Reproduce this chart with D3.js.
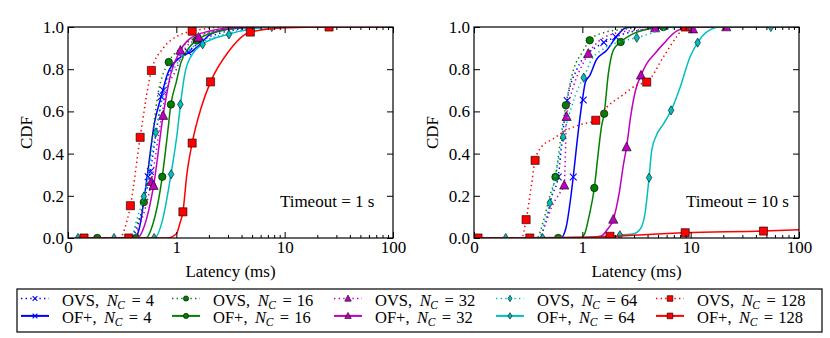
<!DOCTYPE html>
<html>
<head>
<meta charset="utf-8">
<script src="https://cdn.jsdelivr.net/npm/d3@7"></script>
<style>
body { margin: 0; background: #fff; }
svg { display: block; font-family: "Liberation Serif", "Times New Roman", serif; }
</style>
</head>
<body>
<svg id="chart" width="830" height="338"></svg>
<script>
// axis values
const latencyTicks = [0, 1, 10, 100];
const latencyMinor = [2, 3, 4, 5, 6, 7, 8, 9, 20, 30, 40, 50, 60, 70, 80, 90];
const cdfTicks = [0, 0.2, 0.4, 0.6, 0.8, 1.0];
const timeouts = ["Timeout = 1 s", "Timeout = 10 s"];
const clusterSizes = [4, 16, 32, 64, 128];
const switchNames = ["OVS", "OF+"];

// ---- timeout = 1 s : [latency ms, cdf]
const ovs4Curve1 = [[0.09,0],[0.58,0],[0.63,0.04],[0.7,0.17],[0.76,0.315],[0.82,0.52],[0.88,0.7],[0.95,0.8],[1.1,0.87],[1.4,0.9],[1.65,0.93],[2.5,0.97],[5,0.995],[10,1],[100,1]];
const ovs4Marks1 = [[0.76,0.315],[0.88,0.7],[1.65,0.93]];
const of4Curve1 = [[0.09,0],[0.62,0],[0.66,0.05],[0.72,0.25],[0.8,0.55],[0.86,0.67],[0.92,0.78],[1.05,0.85],[1.2,0.87],[1.35,0.88],[1.6,0.91],[2,0.96],[3,0.99],[6,1],[100,1]];
const of4Marks1 = [[0.74,0.29],[0.86,0.67],[1.29,0.88]];
const ovs16Curve1 = [[0.09,0],[0.58,0],[0.63,0.06],[0.7,0.17],[0.76,0.4],[0.83,0.68],[0.93,0.834],[1.1,0.9],[1.5,0.95],[3,0.99],[8,1],[100,1]];
const ovs16Marks1 = [[0.27,0],[0.7,0.17],[0.93,0.834]];
const of16Curve1 = [[0.09,0],[0.72,0],[0.78,0.06],[0.87,0.29],[0.92,0.5],[0.95,0.633],[1.0,0.74],[1.1,0.83],[1.3,0.9],[1.54,0.937],[2.5,0.98],[5,1],[100,1]];
const of16Marks1 = [[0.63,0],[0.87,0.29],[0.95,0.633],[1.54,0.937]];
const ovs32Curve1 = [[0.09,0],[0.6,0],[0.66,0.06],[0.77,0.267],[0.84,0.5],[0.9,0.68],[1.0,0.8],[1.15,0.88],[1.5,0.94],[3,0.99],[8,1],[100,1]];
const ovs32Marks1 = [[0.77,0.267],[1.6,0.95]];
const of32Curve1 = [[0.09,0],[0.64,0],[0.7,0.05],[0.79,0.248],[0.878,0.58],[0.95,0.78],[1.09,0.889],[1.3,0.94],[2,0.98],[4,1],[100,1]];
const of32Marks1 = [[0.79,0.248],[0.878,0.58],[1.09,0.889]];
const ovs64Curve1 = [[0.09,0],[0.58,0],[0.63,0.08],[0.7,0.197],[0.81,0.5],[0.9,0.72],[1.0,0.82],[1.3,0.89],[1.75,0.93],[3,0.97],[7.6,1],[100,1]];
const ovs64Marks1 = [[0.092,0],[0.425,0],[0.7,0.197],[0.81,0.5],[7.6,1]];
const of64Curve1 = [[0.09,0],[0.8,0],[0.87,0.08],[0.95,0.3],[1.02,0.5],[1.09,0.63],[1.2,0.78],[1.4,0.87],[1.75,0.918],[3,0.965],[6,0.995],[10,1],[100,1]];
const of64Marks1 = [[0.795,0],[0.952,0.302],[1.09,0.633],[1.75,0.918],[3.06,0.965]];
const ovs128Curve1 = [[0.09,0],[0.48,0],[0.52,0.04],[0.576,0.153],[0.666,0.477],[0.77,0.794],[0.88,0.9],[1.05,0.96],[1.4,0.98],[3,1],[100,1]];
const ovs128Marks1 = [[0.148,0],[0.576,0.153],[0.666,0.477],[0.77,0.794],[1.4,0.98]];
const of128Curve1 = [[0.09,0],[0.92,0],[1.0,0.02],[1.08,0.07],[1.15,0.124],[1.25,0.3],[1.4,0.45],[1.7,0.62],[2.07,0.74],[3,0.88],[4.82,0.976],[10,0.997],[25.7,1],[100,1]];
const of128Marks1 = [[0.56,0],[1.15,0.124],[1.4,0.45],[2.07,0.74],[4.82,0.976],[25.7,1]];

// ---- timeout = 10 s
const ovs4Curve10 = [[0.04,0],[0.6,0],[0.66,0.07],[0.72,0.2],[0.777,0.289],[0.82,0.5],[0.86,0.652],[0.95,0.8],[1.1,0.87],[1.3,0.9],[1.56,0.924],[2.2,0.96],[4,0.99],[8,1],[100,1]];
const ovs4Marks10 = [[0.777,0.289],[0.86,0.652],[1.58,0.927]];
const of4Curve10 = [[0.04,0],[0.8,0],[0.85,0.05],[0.89,0.18],[0.916,0.289],[0.95,0.45],[1.0,0.652],[1.07,0.74],[1.17,0.77],[1.35,0.845],[1.68,0.89],[2.07,0.955],[2.5,0.995],[3,1],[100,1]];
const of4Marks10 = [[0.916,0.289],[1.02,0.654],[2.03,0.954]];
const ovs16Curve10 = [[0.04,0],[0.58,0],[0.64,0.08],[0.7,0.2],[0.752,0.289],[0.8,0.47],[0.848,0.629],[0.92,0.8],[1.0,0.88],[1.17,0.937],[1.5,0.97],[2.5,0.99],[5,1],[100,1]];
const ovs16Marks10 = [[0.752,0.289],[0.848,0.629],[1.17,0.937]];
const of16Curve10 = [[0.04,0],[0.98,0],[1.05,0.02],[1.15,0.1],[1.29,0.237],[1.4,0.4],[1.5,0.526],[1.59,0.589],[1.74,0.78],[1.93,0.89],[2.26,0.929],[3,0.97],[4,0.99],[5.6,1],[100,1]];
const of16Marks10 = [[0.777,0],[1.29,0.237],[1.59,0.589],[2.26,0.929],[5.6,1]];
const ovs32Curve10 = [[0.04,0],[0.6,0],[0.66,0.07],[0.72,0.15],[0.8,0.22],[0.833,0.25],[0.855,0.575],[0.92,0.72],[1.0,0.82],[1.135,0.874],[1.4,0.93],[2,0.97],[4,0.99],[8,1],[100,1]];
const ovs32Marks10 = [[0.833,0.25],[0.855,0.575],[1.135,0.874],[4.7,0.995]];
const of32Curve10 = [[0.04,0],[1.1,0],[1.5,0.01],[1.7,0.04],[1.93,0.088],[2.2,0.22],[2.4,0.35],[2.56,0.431],[2.8,0.58],[3.1,0.7],[3.48,0.771],[3.93,0.826],[4.6,0.87],[5.6,0.92],[7.4,0.98],[10,1],[100,1]];
const of32Marks10 = [[1.93,0.088],[2.56,0.431],[3.48,0.771],[10.5,0.99],[21.3,1]];
const ovs64Curve10 = [[0.04,0],[0.6,0],[0.65,0.07],[0.7,0.166],[0.76,0.32],[0.823,0.479],[0.9,0.62],[0.97,0.72],[1.03,0.76],[1.2,0.84],[1.5,0.89],[2.2,0.93],[3.18,0.949],[5,0.98],[8,1],[100,1]];
const ovs64Marks10 = [[0.293,0],[0.7,0.166],[0.823,0.479],[1.03,0.76],[3.18,0.949]];
const of64Curve10 = [[0.04,0],[2.0,0.005],[2.22,0.013],[3.0,0.02],[3.5,0.05],[3.8,0.12],[4.13,0.286],[4.37,0.415],[4.86,0.49],[5.6,0.54],[6.6,0.605],[8,0.715],[9.9,0.86],[11.6,0.926],[14,0.976],[18.7,1],[100,1]];
const of64Marks10 = [[0.633,0],[2.22,0.013],[4.13,0.286],[6.6,0.605],[11.6,0.926],[55,1]];
const ovs128Curve10 = [[0.037,0],[0.44,0],[0.481,0.087],[0.53,0.25],[0.564,0.368],[0.62,0.43],[0.73,0.47],[0.85,0.51],[1.0,0.54],[1.33,0.558],[1.68,0.62],[2.4,0.68],[3.17,0.725],[3.93,0.739],[5.6,0.858],[7.4,0.953],[8.9,1],[100,1]];
const ovs128Marks10 = [[0.037,0],[0.481,0.087],[0.564,0.368],[1.33,0.558],[3.93,0.739],[8.9,1]];
const of128Curve10 = [[0.037,0],[0.515,0],[1.0,0.003],[1.8,0.008],[8.9,0.025],[47,0.033],[100,0.039]];
const of128Marks10 = [[0.515,0],[1.8,0.008],[8.9,0.025],[47,0.033]];

const panelCurves = [
  [[ovs4Curve1, ovs4Marks1], [of4Curve1, of4Marks1], [ovs16Curve1, ovs16Marks1], [of16Curve1, of16Marks1],
   [ovs32Curve1, ovs32Marks1], [of32Curve1, of32Marks1], [ovs64Curve1, ovs64Marks1], [of64Curve1, of64Marks1],
   [ovs128Curve1, ovs128Marks1], [of128Curve1, of128Marks1]],
  [[ovs4Curve10, ovs4Marks10], [of4Curve10, of4Marks10], [ovs16Curve10, ovs16Marks10], [of16Curve10, of16Marks10],
   [ovs32Curve10, ovs32Marks10], [of32Curve10, of32Marks10], [ovs64Curve10, ovs64Marks10], [of64Curve10, of64Marks10],
   [ovs128Curve10, ovs128Marks10], [of128Curve10, of128Marks10]]
];

// styles per cluster size
const colors = ["#0000ff", "#008000", "#bf00bf", "#00bfbf", "#ff0000"];
const shapes = ["x", "circle", "triangle", "diamond", "square"];

const svg = d3.select("#chart");
const W = 325, H = 211, marginTop = 27;
const panelX = [68, 474];
const fontSize = 17;

// 0..1 is linear, above 1 is log10
function tf(v) { return v <= 1 ? v : 1 + Math.log10(v); }

function markerPath(shape, s) {
  if (shape === "x") {
    const h = 3.4 * s;
    return `M${-h},${-h}L${h},${h}M${-h},${h}L${h},${-h}`;
  }
  if (shape === "circle") return d3.symbol(d3.symbolCircle, 44 * s * s)();
  if (shape === "square") return d3.symbol(d3.symbolSquare, 66 * s * s)();
  if (shape === "triangle") {
    const w = 4.6 * s, h = 4.4 * s;
    return `M0,${-h - 0.6 * s}L${w},${h - 0.6 * s}L${-w},${h - 0.6 * s}Z`;
  }
  // thin diamond
  const w = 2.8 * s, h = 4.6 * s;
  return `M0,${-h}L${w},0L0,${h}L${-w},0Z`;
}

function drawMarker(sel, shape, color, s) {
  if (shape === "x") {
    sel.append("path").attr("d", markerPath(shape, s))
      .attr("fill", "none").attr("stroke", color).attr("stroke-width", 1.1);
  } else {
    sel.append("path").attr("d", markerPath(shape, s))
      .attr("fill", color).attr("stroke", "#000").attr("stroke-width", 0.6);
  }
}

panelCurves.forEach(function (curves, p) {
  const g = svg.append("g").attr("transform", `translate(${panelX[p]},${marginTop})`);
  const xs = d3.scaleLinear().domain([0, 3]).range([0, W]);
  const ys = d3.scaleLinear().domain([0, 1]).range([H, 0]);

  g.append("clipPath").attr("id", "clip" + p)
    .append("rect").attr("width", W).attr("height", H);

  const plot = g.append("g").attr("clip-path", `url(#clip${p})`);
  const line = d3.line()
    .x(d => xs(tf(d[0])))
    .y(d => ys(d[1]))
    .curve(d3.curveMonotoneX);

  curves.forEach(function (c, i) {
    const k = Math.floor(i / 2);
    const dotted = i % 2 === 0;
    plot.append("path")
      .attr("d", line(c[0]))
      .attr("fill", "none")
      .attr("stroke", colors[k])
      .attr("stroke-width", 1.5)
      .attr("stroke-dasharray", dotted ? "1.4,3.2" : null);
    c[1].forEach(function (m) {
      const mg = plot.append("g")
        .attr("transform", `translate(${xs(tf(m[0]))},${ys(m[1])})`);
      drawMarker(mg, shapes[k], colors[k], 1);
    });
  });

  // axes, ticks inward on all sides
  const bottom = g.append("g").attr("transform", `translate(0,${H})`)
    .call(d3.axisBottom(xs).tickValues(latencyTicks.map(tf))
      .tickFormat((d, i) => latencyTicks[i]).tickSizeInner(-6).tickSizeOuter(0).tickPadding(3));
  g.append("g").attr("transform", `translate(0,${H})`)
    .call(d3.axisBottom(xs).tickValues(latencyMinor.map(tf)).tickFormat("").tickSizeInner(-3).tickSizeOuter(0));
  g.append("g")
    .call(d3.axisTop(xs).tickValues(latencyTicks.map(tf)).tickFormat("").tickSizeInner(-6).tickSizeOuter(0));
  g.append("g")
    .call(d3.axisTop(xs).tickValues(latencyMinor.map(tf)).tickFormat("").tickSizeInner(-3).tickSizeOuter(0));
  const left = g.append("g")
    .call(d3.axisLeft(ys).tickValues(cdfTicks).tickFormat(d3.format(".1f"))
      .tickSizeInner(-6).tickSizeOuter(0).tickPadding(4));
  g.append("g").attr("transform", `translate(${W},0)`)
    .call(d3.axisRight(ys).tickValues(cdfTicks).tickFormat("").tickSizeInner(-6).tickSizeOuter(0));

  g.selectAll(".domain").remove();
  g.selectAll(".tick line").attr("stroke", "#000").attr("stroke-width", 1);
  [bottom, left].forEach(a => a.attr("font-size", fontSize).attr("font-family", null));
  g.selectAll(".tick text").attr("fill", "#000");

  g.append("rect").attr("width", W).attr("height", H)
    .attr("fill", "none").attr("stroke", "#000").attr("stroke-width", 1.2);

  g.append("text").attr("x", W * 0.652).attr("y", 180)
    .attr("font-size", fontSize).text(timeouts[p]);

  g.append("text").attr("x", W / 2).attr("y", H + 39)
    .attr("text-anchor", "middle").attr("font-size", fontSize).text("Latency (ms)");

  g.append("text").attr("transform", `translate(-36,${H / 2}) rotate(-90)`)
    .attr("text-anchor", "middle").attr("font-size", fontSize).text("CDF");
});

// legend
const legend = svg.append("g");
legend.append("rect").attr("x", 17).attr("y", 289).attr("width", 805).attr("height", 43)
  .attr("fill", "#fff").attr("stroke", "#000").attr("stroke-width", 1.2);
const textX = [62, 213, 375, 537, 697];
clusterSizes.forEach(function (n, k) {
  switchNames.forEach(function (sw, r) {
    const base = 305.5 + r * 17.4;
    const ly = base - 7;
    const x0 = textX[k] - 41, x1 = textX[k] - 13;
    legend.append("line").attr("x1", x0).attr("x2", x1).attr("y1", ly).attr("y2", ly)
      .attr("stroke", colors[k]).attr("stroke-width", r === 0 ? 1.5 : 2)
      .attr("stroke-dasharray", r === 0 ? "1.4,3.2" : null);
    const mg = legend.append("g").attr("transform", `translate(${(x0 + x1) / 2},${ly})`);
    drawMarker(mg, shapes[k], colors[k], 0.7);

    // label "OVS, N_C = n" laid out piece by piece (mathtext-like spacing)
    const t = legend.append("text").attr("y", base).attr("font-size", 16.5);
    let cx = textX[k];
    function piece(str, gap, attrs) {
      cx += gap;
      const ts = t.append("tspan").attr("x", cx);
      Object.entries(attrs || {}).forEach(([a, v]) => ts.attr(a, v));
      ts.text(str);
      cx += ts.node().getComputedTextLength();
    }
    piece(sw + ",", 0);
    piece("N", 7.5, { "font-style": "italic" });
    piece("C", -0.4, { "font-style": "italic", "font-size": 11.5, "dy": 3.5 });
    piece("=", 6.5, { "dy": -3.5 });
    piece(String(n), 5);
  });
});
</script>
</body>
</html>
